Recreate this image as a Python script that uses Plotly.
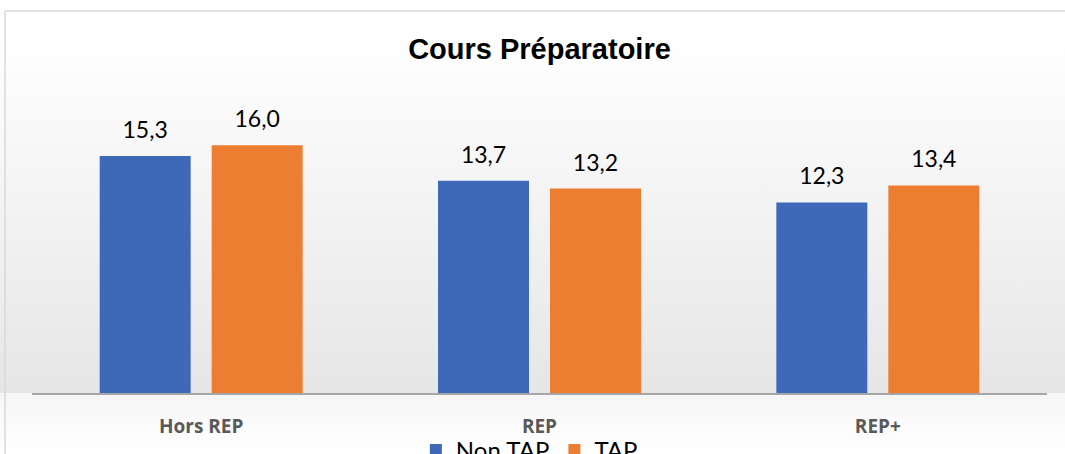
import plotly.graph_objects as go
import base64

categories = ["Hors REP", "REP", "REP+"]
non_tap = [15.3, 13.7, 12.3]
tap = [16.0, 13.2, 13.4]
series_names = ["Non TAP", "TAP"]
title_text = "Cours Préparatoire"

W, H = 1065, 454
ml, mr, mt, mb = 32, 18, 70, 61
PW, PH = W - ml - mr, H - mt - mb
BARGAP = 0.338

# background gradient (SVG) spanning the whole figure
axis_frac = (H - mb) / H
svg = f'''<svg xmlns="http://www.w3.org/2000/svg" width="{W}" height="{H}" viewBox="0 0 {W} {H}" preserveAspectRatio="none">
<defs><linearGradient id="g" x1="0" y1="0" x2="0" y2="1">
<stop offset="0" stop-color="#ffffff"/>
<stop offset="0.08" stop-color="#ffffff"/>
<stop offset="{axis_frac:.4f}" stop-color="#e6e6e6"/>
<stop offset="{axis_frac+0.001:.4f}" stop-color="#f6f6f6"/>
<stop offset="1" stop-color="#ffffff"/>
</linearGradient></defs>
<rect x="0" y="0" width="{W}" height="{H}" fill="url(#g)"/>
</svg>'''
src = "data:image/svg+xml;base64," + base64.b64encode(svg.encode()).decode()

colors = ["#3e69b8", "#ed7d31"]
fig = go.Figure()
for name, vals, col in zip(series_names, [non_tap, tap], colors):
    fig.add_bar(x=categories, y=vals, name=name,
                marker=dict(color=col, line=dict(width=0)))
# value labels, grouped like the bars
for name, vals in zip(series_names, [non_tap, tap]):
    fig.add_scatter(x=categories, y=vals, mode="markers+text", showlegend=False,
                    text=[f"{v:.1f}".replace(".", ",") for v in vals],
                    textposition="top center", hoverinfo="skip",
                    marker=dict(size=18, opacity=0),
                    textfont=dict(family="Lato", size=23, color="#000000"),
                    cliponaxis=False)

ymax = PH / 15.49

fig.update_layout(
    width=W, height=H, autosize=False,
    margin=dict(l=ml, r=mr, t=mt, b=mb, autoexpand=False),
    paper_bgcolor="rgba(0,0,0,0)",
    plot_bgcolor="rgba(0,0,0,0)",
    barmode="group", bargap=BARGAP, bargroupgap=0.1875,
    scattermode="group", scattergap=BARGAP,
    title=dict(text=title_text, x=0.5, xref="paper", xanchor="center", y=1 - 49 / H, yanchor="middle",
               font=dict(family="Liberation Sans", size=29, color="#000000", weight="bold")),
    xaxis=dict(showline=True, linecolor="#a6a6a6", linewidth=2, ticks="",
               showgrid=False, ticklabelstandoff=15,
               tickfont=dict(family="Open Sans", size=19, color="#595959", weight="bold")),
    yaxis=dict(range=[0, ymax], visible=False, showgrid=False),
    legend=dict(orientation="h", x=0.49, xanchor="center", yref="container",
                y=1 - 428 / H, yanchor="top",
                font=dict(family="Lato", size=24, color="#000000"),
                itemwidth=30, tracegroupgap=0, bgcolor="rgba(0,0,0,0)"),
    images=[dict(source=src, xref="paper", yref="paper", x=-ml / PW,
                 y=1 + mt / PH, sizex=W / PW, sizey=H / PH,
                 xanchor="left", yanchor="top", sizing="stretch", layer="below")],
    shapes=[
        dict(type="line", xref="paper", yref="paper",
             x0=-(ml - 5) / PW, x1=1 + mr / PW,
             y0=1 + (mt - 11) / PH, y1=1 + (mt - 11) / PH,
             line=dict(color="#d9d9d9", width=1.5)),
        dict(type="line", xref="paper", yref="paper",
             x0=-(ml - 5) / PW, x1=-(ml - 5) / PW,
             y0=-mb / PH, y1=1 + (mt - 11) / PH,
             line=dict(color="#d9d9d9", width=1.5)),
    ],
)

fig.write_html("out.html", config={"displayModeBar": False},
               post_script="document.body.style.margin='0';")
